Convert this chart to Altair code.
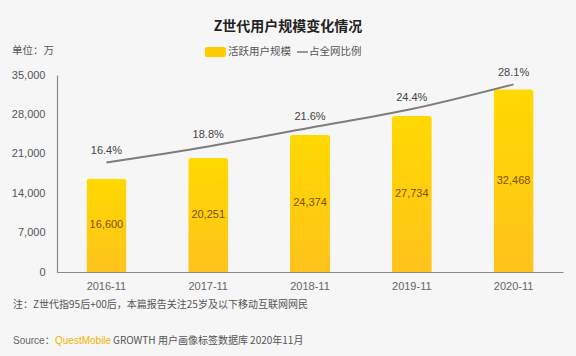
import altair as alt
import pandas as pd

categories = ["2016-11", "2017-11", "2018-11", "2019-11", "2020-11"]
users = [16600, 20251, 24374, 27734, 32468]
share = [16.4, 18.8, 21.6, 24.4, 28.1]
y_ticks = [0, 7000, 14000, 21000, 28000, 35000]

df = pd.DataFrame({
    "month": categories,
    "users": users,
    "share": share,
    "share_label": [f"{v:.1f}%" for v in share],
    "mid": [u / 2 for u in users],
})

FONT = "Liberation Sans, Noto Sans CJK SC, sans-serif"
CJK = "Noto Sans CJK SC, sans-serif"

xscale = alt.Scale(paddingInner=0.607, paddingOuter=0.289, align=0.5)
xaxis = alt.Axis(labelAngle=0, ticks=False, domainColor="#8a8a8a", domainWidth=1.2,
                 labelColor="#666", labelFontSize=11, labelFont=FONT, labelPadding=8,
                 grid=False)
x_enc = alt.X("month:N", sort=categories, title=None, scale=xscale, axis=xaxis)

yscale = alt.Scale(domain=[0, 35000], nice=False)
yaxis = alt.Axis(values=y_ticks, labelExpr="format(datum.value, ',')", ticks=False, grid=False,
                 domainColor="#8a8a8a", domainWidth=1.2, labelColor="#555",
                 labelFontSize=11, labelFont=FONT, labelPadding=12)

bars = alt.Chart(df).mark_bar(
    cornerRadiusTopLeft=3, cornerRadiusTopRight=3,
    color=alt.Gradient(gradient="linear", x1=0, y1=0, x2=0, y2=1,
                       stops=[alt.GradientStop(color="#FFD900", offset=0),
                              alt.GradientStop(color="#FFC31C", offset=1)]),
).encode(
    x=x_enc,
    y=alt.Y("users:Q", title=None, scale=yscale, axis=yaxis),
)

bar_text = alt.Chart(df).mark_text(
    font=FONT, fontSize=11, color="#7a5200"
).encode(
    x=x_enc,
    y=alt.Y("mid:Q", title=None, scale=yscale, axis=yaxis),
    text=alt.Text("users:Q", format=","),
)

left = alt.layer(bars, bar_text)

rscale = alt.Scale(domain=[0, 29.5], nice=False)
line = alt.Chart(df).mark_line(color="#7d7d7d", strokeWidth=2, interpolate="monotone").encode(
    x=x_enc,
    y=alt.Y("share:Q", scale=rscale, axis=None),
)
line_text = alt.Chart(df).mark_text(font=FONT, fontSize=11, color="#444", dy=-11).encode(
    x=x_enc,
    y=alt.Y("share:Q", scale=rscale, axis=None),
    text="share_label:N",
)
right = alt.layer(line, line_text)

def txt(s, x, y, size=11, color="#555", align="left", weight="normal", font=CJK):
    return alt.Chart(pd.DataFrame({"t": [s]})).mark_text(
        align=align, baseline="middle", fontSize=size, color=color, fontWeight=weight, font=font
    ).encode(x=alt.value(x), y=alt.value(y), text="t:N")

deco = alt.layer(
    txt("Z世代用户规模变化情况", 231, -48, size=14, color="#222", align="center", weight="bold"),
    txt("单位：万", -45, -24, size=10.5, color="#555"),
    alt.Chart(pd.DataFrame({"a": [0]})).mark_rect(color="#FFCC00", cornerRadius=2).encode(
        x=alt.value(148), x2=alt.value(169), y=alt.value(-28), y2=alt.value(-18)),
    txt("活跃用户规模", 171, -23, size=10.5, color="#555"),
    alt.Chart(pd.DataFrame({"a": [0]})).mark_rule(color="#777", strokeWidth=1.5).encode(
        x=alt.value(240), x2=alt.value(251), y=alt.value(-23)),
    txt("占全网比例", 252, -23, size=10.5, color="#555"),
    txt("注：Z世代指95后+00后，本篇报告关注25岁及以下移动互联网网民", -44, 230, size=10, color="#555"),
    txt("Source：", -44, 266, size=10, color="#666", font=FONT),
    txt("QuestMobile", -2, 266, size=10, color="#F0B400", font=FONT),
    txt("GROWTH 用户画像标签数据库 2020年11月", 56, 266, size=10, color="#555"),
)

chart = alt.layer(left, right, deco).resolve_scale(y="independent").properties(
    width=506, height=197,
    autosize=alt.AutoSizeParams(type="none"),
    padding={"left": 57, "top": 75, "right": 13, "bottom": 84},
    background="#f6f6f6",
).configure_view(stroke=None)

chart.save("out.html", embed_options={"renderer": "svg", "actions": False})
